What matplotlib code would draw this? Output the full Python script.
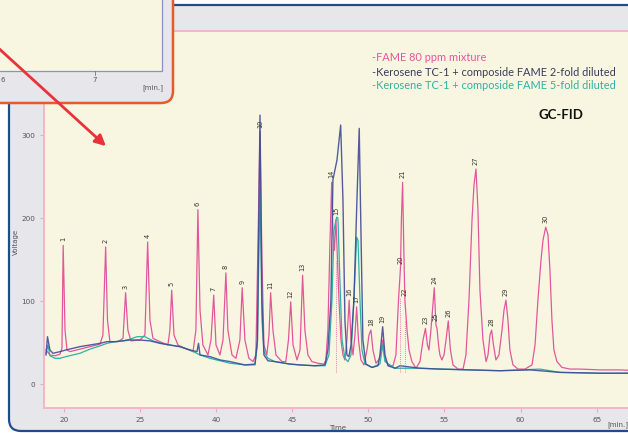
import matplotlib.pyplot as plt
from matplotlib.patches import FancyBboxPatch, Rectangle, FancyArrowPatch

# Axis ticks (positions in run time, labels as printed on the instrument plot)
time_ticks = [20, 25, 30, 35, 40, 45, 50, 55]
time_tick_labels = ['20', '25', '40', '45', '50', '55', '60', '65']
volt_ticks = [0, 100, 200, 300]

# FAME 80 ppm mixture
fame_time = [18.82, 19.08, 19.41, 19.74, 19.87, 19.95, 20.07, 20.20, 20.39, 21.05,
             21.71, 22.37, 22.56, 22.74, 22.86, 23.02, 23.55, 23.88, 24.05, 24.20,
             24.40, 24.99, 25.32, 25.50, 25.65, 25.85, 26.31, 26.83, 26.96, 27.08,
             27.23, 27.49, 27.95, 28.48, 28.67, 28.80, 28.94, 29.13, 29.46, 29.66,
             29.84, 29.99, 30.25, 30.45, 30.64, 30.77, 31.04, 31.30, 31.56, 31.71,
             31.89, 32.15, 32.42, 32.61, 32.74, 32.88, 33.01, 33.14, 33.33, 33.47,
             33.58, 33.73, 33.93, 34.32, 34.58, 34.75, 34.90, 35.05, 35.31, 35.51,
             35.68, 35.83, 36.03, 36.29, 36.69, 37.08, 37.21, 37.34, 37.48, 37.59,
             37.67, 37.77, 37.87, 37.97, 38.07, 38.20, 38.33, 38.46, 38.59, 38.74,
             38.86, 38.99, 39.12, 39.23, 39.35, 39.51, 39.71, 39.91, 40.04, 40.17,
             40.30, 40.50, 40.76, 40.94, 41.09, 41.35, 41.62, 41.81, 41.98, 42.11,
             42.17, 42.25, 42.33, 42.40, 42.54, 42.67, 42.86, 43.13, 43.39, 43.59,
             43.75, 43.88, 43.98, 44.11, 44.33, 44.44, 44.51, 44.61, 44.70, 44.83,
             44.97, 45.10, 45.25, 45.39, 45.56, 45.89, 46.22, 46.41, 46.61, 46.81,
             46.94, 47.07, 47.20, 47.33, 47.53, 47.73, 47.86, 47.99, 48.10, 48.22,
             48.38, 48.58, 48.78, 48.91, 49.04, 49.17, 49.30, 49.50, 49.83, 50.29,
             50.75, 50.95, 51.14, 51.34, 51.47, 51.65, 51.80, 51.93, 52.06, 52.19,
             52.39, 52.72, 53.25, 53.90, 55.22, 56.53, 57.85]
fame_volt = [41, 35, 34, 36, 43, 167, 65, 41, 39, 42,
             45, 48, 59, 165, 77, 51, 51, 55, 110, 65,
             52, 53, 59, 171, 77, 55, 51, 47, 65, 113,
             59, 47, 43, 39, 65, 210, 89, 47, 35, 53,
             107, 47, 35, 53, 134, 65, 35, 31, 53, 116,
             53, 31, 27, 35, 161, 304, 149, 47, 35, 59,
             110, 65, 35, 27, 27, 53, 99, 47, 29, 41,
             131, 65, 35, 27, 25, 24, 29, 65, 173, 243,
             186, 161, 198, 149, 101, 53, 35, 29, 53, 101,
             53, 35, 59, 93, 53, 29, 23, 41, 59, 65,
             41, 25, 31, 53, 29, 22, 22, 35, 101, 140,
             198, 243, 161, 101, 65, 41, 27, 19, 27, 53,
             67, 47, 41, 65, 116, 71, 67, 47, 35, 29,
             35, 53, 76, 41, 23, 18, 18, 35, 101, 198,
             240, 259, 210, 113, 53, 27, 35, 59, 65, 47,
             29, 35, 65, 89, 101, 77, 41, 23, 18, 18,
             23, 47, 101, 149, 173, 189, 180, 137, 77, 41,
             27, 20, 18, 18, 17, 17, 16]

# Kerosene TC-1 + composite FAME, 2-fold diluted
kero2_time = [18.82, 18.92, 19.08, 19.28, 19.74, 20.13, 20.59, 21.05, 21.71, 22.37,
              22.83, 23.35, 23.88, 24.34, 24.99, 25.65, 26.31, 26.96, 27.62, 28.28,
              28.74, 28.84, 28.94, 29.59, 30.25, 30.91, 31.89, 32.55, 32.71, 32.88,
              33.01, 33.14, 33.40, 33.86, 34.85, 35.51, 36.49, 37.15, 37.34, 37.54,
              37.67, 37.94, 38.18, 38.33, 38.46, 38.59, 38.72, 38.86, 39.05, 39.25,
              39.40, 39.51, 39.64, 39.84, 40.24, 40.63, 40.76, 40.94, 41.09, 41.29,
              41.75, 42.08, 43.39, 44.70, 46.67, 48.65, 50.62, 52.59, 55.22, 57.85]
kero2_volt = [35, 57, 41, 37, 39, 41, 43, 45, 47, 49,
              51, 51, 52, 53, 53, 52, 49, 47, 45, 41,
              39, 49, 35, 33, 29, 27, 23, 24, 53, 324,
              101, 35, 28, 27, 24, 23, 22, 23, 41, 101,
              246, 270, 312, 222, 77, 35, 33, 47, 101, 222,
              308, 186, 53, 24, 20, 22, 35, 69, 35, 22,
              19, 22, 19, 18, 17, 16, 17, 14, 13, 13]

# Kerosene TC-1 + composite FAME, 5-fold diluted
kero5_time = [18.82, 18.95, 19.08, 19.41, 19.74, 20.13, 20.59, 21.05, 21.71, 22.37,
              22.83, 23.35, 23.88, 24.34, 24.80, 25.32, 25.85, 26.44, 26.96, 27.62,
              28.28, 28.94, 29.59, 30.25, 30.91, 31.89, 32.55, 32.71, 32.88, 33.01,
              33.14, 33.40, 33.86, 34.85, 35.51, 36.49, 37.15, 37.41, 37.61, 37.74,
              37.92, 38.00, 38.13, 38.27, 38.46, 38.66, 38.86, 39.05, 39.23, 39.32,
              39.45, 39.58, 39.78, 40.24, 40.76, 40.94, 41.09, 41.75, 43.39, 44.70,
              46.67, 48.65, 51.27, 52.59, 55.22, 57.85]
kero5_volt = [37, 47, 34, 31, 31, 33, 35, 37, 42, 46,
              49, 51, 52, 54, 57, 57, 52, 49, 47, 45,
              41, 35, 31, 28, 25, 23, 23, 47, 234, 77,
              39, 31, 27, 24, 23, 22, 22, 35, 101, 186,
              201, 200, 125, 53, 31, 27, 35, 101, 177, 173,
              101, 41, 24, 20, 24, 47, 27, 19, 19, 18,
              17, 16, 18, 14, 13, 13]

# Peak numbering
peak_no = list(range(1, 31))
peak_time = [19.95, 22.74, 24.05, 25.50, 27.08, 28.80, 29.84, 30.64, 31.71, 32.88,
             33.58, 34.90, 35.68, 37.59, 37.87, 38.74, 39.23, 40.17, 40.94, 42.11,
             42.25, 42.40, 43.75, 44.33, 44.44, 45.25, 47.07, 48.10, 49.04, 51.65]
peak_volt = [167, 165, 110, 171, 113, 210, 107, 134, 116, 304,
             110, 99, 131, 243, 198, 101, 93, 65, 69, 140,
             243, 101, 67, 116, 71, 76, 259, 65, 101, 189]

PINK = '#e2579b'
NAVY = '#3f4b98'
TEAL = '#2fb2a2'
CREAM = '#f8f6e1'
GREY = '#e6e6eb'

fig = plt.figure(figsize=(6.28, 4.33), dpi=100)
fig.patch.set_facecolor('white')

# frame of the main window, in pixel units
bg = fig.add_axes([0, 0, 1, 1], zorder=0)
bg.set_xlim(0, 628)
bg.set_ylim(433, 0)
bg.axis('off')
bg.add_patch(FancyBboxPatch((9, 5), 700, 426, boxstyle='round,pad=0,rounding_size=12',
                            facecolor=GREY, edgecolor='#1f4d8c', lw=1.6))
bg.text(618, 425, '[min.]', fontsize=5, color='#555555', ha='center', va='center')

# chromatogram
ax = fig.add_axes([44 / 628, 25 / 433, 616 / 628, 377 / 433], zorder=1)
ax.set_facecolor(CREAM)
ax.plot(fame_time, fame_volt, color=PINK, lw=0.9)
ax.plot(kero5_time, kero5_volt, color=TEAL, lw=0.9)
ax.plot(kero2_time, kero2_volt, color=NAVY, lw=1.0, alpha=0.9)

drops = [14, 19, 21]
ax.vlines([peak_time[i] for i in drops], 15, [peak_volt[i] * 0.75 for i in drops],
          colors=PINK, linestyles=(0, (1, 1.5)), lw=0.6)

for n, t, v in zip(peak_no, peak_time, peak_volt):
    ax.annotate(str(n), (t, v), xytext=(0, 3), textcoords='offset points',
                rotation=90, ha='center', va='bottom', fontsize=4.8, color='#333333')

ax.set_xlim(18.69, 59.16)
ax.set_ylim(-28.9, 425.3)
ax.set_xticks(time_ticks)
ax.set_xticklabels(time_tick_labels)
ax.set_yticks(volt_ticks)
ax.tick_params(colors='#f0a8c0', labelcolor='#555555', labelsize=5.2, length=3, width=0.8)
for side in ['left', 'bottom', 'top']:
    ax.spines[side].set_color('#f2b6c8')
    ax.spines[side].set_linewidth(1.4)
ax.spines['right'].set_visible(False)
ax.set_xlabel('Time', fontsize=5, color='#555555')
ax.xaxis.set_label_coords(0.476, -0.045)
ax.set_ylabel('Voltage', fontsize=5, color='#555555')
ax.yaxis.set_label_coords(-0.04, 0.44)

ax.text(0.532, 0.93, '-FAME 80 ppm mixture', transform=ax.transAxes,
        fontsize=7.9, color=PINK, family='Lato', va='center')
ax.text(0.532, 0.891, '-Kerosene TC-1 + composide FAME 2-fold diluted', transform=ax.transAxes,
        fontsize=7.9, color='#3a3b5e', family='Lato', va='center')
ax.text(0.532, 0.856, '-Kerosene TC-1 + composide FAME 5-fold diluted', transform=ax.transAxes,
        fontsize=7.9, color=TEAL, family='Lato', va='center')
ax.text(0.802, 0.776, 'GC-FID', transform=ax.transAxes, fontsize=9.5, fontweight='bold',
        color='#111111', family='Lato', va='center')

# zoomed window in the corner and the pointer
ov = fig.add_axes([0, 0, 1, 1], zorder=3)
ov.set_xlim(0, 628)
ov.set_ylim(433, 0)
ov.axis('off')
ov.patch.set_alpha(0)
ov.add_patch(FancyBboxPatch((-30, -30), 203, 133, boxstyle='round,pad=0,rounding_size=12',
                            facecolor=GREY, edgecolor='#e85a2a', lw=1.8))
ov.add_patch(Rectangle((-30, -30), 192, 101, facecolor=CREAM, edgecolor='#8395c5', lw=0.9))
ov.plot([95, 95], [71, 75], color='#777777', lw=0.6)
ov.text(95, 80, '7', fontsize=5, color='#555555', ha='center', va='center')
ov.text(3, 80, '6', fontsize=5, color='#555555', ha='center', va='center')
ov.text(153, 88, '[min.]', fontsize=5, color='#555555', ha='center', va='center')
ov.add_patch(FancyArrowPatch((-5, 45), (108, 148), arrowstyle='-|>', mutation_scale=16,
                             color='#e8333b', lw=2))

fig.savefig('out.png', dpi=100)
